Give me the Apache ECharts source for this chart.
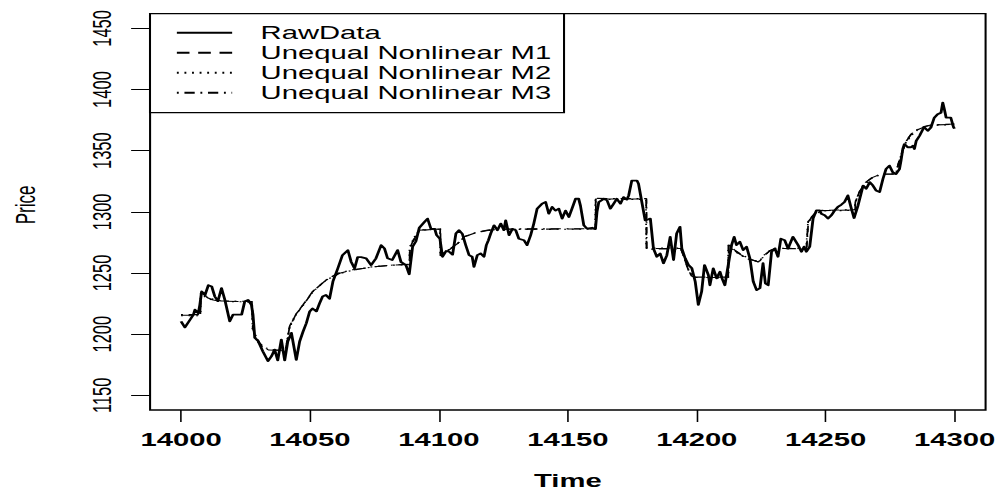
<!DOCTYPE html>
<html>
<head>
<meta charset="utf-8">
<script src="https://cdn.jsdelivr.net/npm/echarts@6/dist/echarts.min.js"></script>
<style>
  html, body { margin: 0; padding: 0; background: #fff; overflow: hidden; }
  /* drawn narrow and widened, like a stretched R device */
  #chart { width: 633px; height: 495px; transform: scaleX(1.5798); transform-origin: 0 0; }
</style>
</head>
<body>
<div id="chart"></div>
<script>
const timeTicks = [14000, 14050, 14100, 14150, 14200, 14250, 14300];
const priceTicks = [1150, 1200, 1250, 1300, 1350, 1400, 1450];

const rawTime = [
  14000, 14001.5, 14003.5, 14004.8, 14005.4, 14006.7, 14007.3, 14008, 14009.3, 14010.6,
  14011.9, 14013.1, 14014.3, 14015.7, 14017, 14018.9, 14020.2, 14023.5, 14024.7, 14026,
  14027.3, 14027.9, 14028.6, 14029.9, 14031.7, 14033.7, 14035.1, 14036.3, 14037.5, 14038.9,
  14040.2, 14041.4, 14042.8, 14044.7, 14046, 14047.3, 14048.6, 14049.9, 14051, 14052.5,
  14053.7, 14054.9, 14056.2, 14057.6, 14058.9, 14060.8, 14062.6, 14064.7, 14066, 14067.3,
  14068.5, 14069.8, 14071.8, 14073.7, 14075.6, 14077.6, 14078.9, 14080.1, 14081.9, 14084,
  14085.3, 14087.2, 14088.5, 14089.8, 14091.1, 14092.4, 14094.3, 14095.6, 14096.9, 14098.4,
  14099.1, 14100.4, 14101.4, 14102.8, 14104, 14105.3, 14106.6, 14107.8, 14109.1, 14110.4,
  14111.7, 14112.9, 14113.6, 14114.9, 14116.2, 14117.5, 14118.4, 14119.2, 14120.1, 14121.4,
  14122.7, 14124, 14125.2, 14125.9, 14127.2, 14128.5, 14129.8, 14131, 14133, 14134.2,
  14135.6, 14136.8, 14138.1, 14140, 14141.4, 14142.6, 14143.9, 14145.2, 14146.5, 14147.8,
  14149.1, 14150.4, 14151.6, 14153, 14154.2, 14154.9, 14156.2, 14157.4, 14159.4, 14160.7,
  14161.3, 14162, 14163.9, 14165.2, 14166.5, 14167.8, 14169, 14170.4, 14171.6, 14172.9,
  14173.6, 14174.8, 14176.8, 14177.4, 14178.7, 14180, 14182, 14183.2, 14184.5, 14185.8,
  14187.1, 14188.4, 14189.7, 14191, 14192.2, 14193.5, 14194.2, 14195.5, 14196.8, 14198.1,
  14199.4, 14200.6, 14201.9, 14203, 14204.5, 14205.1, 14206.4, 14207.7, 14209, 14209.9,
  14210.9, 14212.2, 14213.5, 14214.5, 14215.4, 14216.7, 14218, 14219.3, 14220.6, 14221.9,
  14223.2, 14224.5, 14225.7, 14226.6, 14227.7, 14229, 14230.3, 14231.5, 14232.6, 14234.1,
  14235.4, 14237.3, 14239.3, 14240.6, 14241.6, 14242.5, 14243.8, 14245.1, 14246.4, 14247.7,
  14248.3, 14249.6, 14250.9, 14252.2, 14253.5, 14254.7, 14256, 14257.3, 14258.6, 14259.9,
  14261, 14262.5, 14264.5, 14265.7, 14267.1, 14268.3, 14269.5, 14270.9, 14272.2, 14273.4,
  14274.7, 14276, 14277.3, 14278.6, 14279.2, 14279.9, 14280.5, 14281.8, 14283.1, 14283.8,
  14284.4, 14285.1, 14286.4, 14287.7, 14288.3, 14289.6, 14290.8, 14292.1, 14293.4, 14294.7,
  14295.4, 14296, 14296.7, 14298.5, 14299.6, 14300
];
const rawPrice = [
  1210.5, 1205.6, 1211.8, 1215.9, 1220, 1217, 1224, 1234.9, 1232, 1240,
  1239, 1230.8, 1227, 1237.6, 1228, 1210.5, 1216, 1216, 1226.7, 1228,
  1224, 1216, 1197, 1194.5, 1186, 1178, 1182, 1187.4, 1178.5, 1195.5,
  1178.5, 1194, 1201, 1179, 1194, 1202, 1209, 1218.6, 1221, 1218.6,
  1225, 1230.8, 1232, 1229, 1243, 1253.8, 1264.6, 1268.7, 1259, 1253.8,
  1263, 1263, 1262, 1256.5, 1262, 1272.8, 1270, 1262, 1260.6, 1268.7,
  1259, 1256.5, 1249, 1271.5, 1276, 1287, 1291.5, 1294.5, 1286.3, 1286,
  1281, 1278, 1263.3, 1268, 1267.4, 1265, 1282.3, 1285, 1282, 1272.8,
  1264.6, 1263.3, 1255, 1264.6, 1266, 1263.3, 1272.8, 1276.8, 1282.3, 1289,
  1285, 1290.4, 1285, 1293, 1281, 1286, 1285, 1278, 1276.8, 1272.8,
  1281, 1290.4, 1302.6, 1306.7, 1308, 1298.5, 1304, 1301, 1302.6, 1294.5,
  1301, 1295.8, 1302.6, 1310.7, 1310.7, 1305, 1289, 1286.3, 1287, 1286,
  1300, 1308, 1310.7, 1309.4, 1302.6, 1306.7, 1310.7, 1306.7, 1312, 1310,
  1313.4, 1325.6, 1325.6, 1323, 1308, 1293, 1294.5, 1270, 1263.3, 1266,
  1258, 1264.6, 1279.6, 1260.6, 1282.3, 1287.7, 1270, 1262, 1256.5, 1253.8,
  1243, 1224, 1235, 1256.5, 1248.4, 1240, 1253.8, 1245.7, 1251, 1245,
  1240, 1256.5, 1272.8, 1279.6, 1272.8, 1275.5, 1268.7, 1271.5, 1262, 1243,
  1236, 1237.6, 1258, 1241.6, 1240, 1267.4, 1270, 1263.3, 1278, 1276.8,
  1270, 1279.6, 1272.8, 1267.4, 1271.5, 1267.4, 1271.5, 1294.5, 1301.2, 1301.2,
  1298.5, 1297.2, 1294.5, 1297.2, 1301.2, 1304, 1305.8, 1308, 1313.4, 1303,
  1295, 1305, 1321.5, 1318.9, 1324.3, 1321.5, 1317.5, 1316.2, 1327, 1335,
  1337.8, 1332.4, 1331, 1335, 1341.9, 1351.4, 1355.4, 1352.8, 1352.8, 1354,
  1351.4, 1358, 1362.2, 1367.6, 1369, 1366.3, 1369, 1377, 1379.8, 1381,
  1389.3, 1384, 1377, 1377, 1369, 1368
];

// fitted trajectories of the three unequal-spaced nonlinear models
const m1Time = [
  14000, 14007.5, 14007.7, 14009, 14010.5, 14012.5, 14015, 14027.5, 14027.8, 14029,
  14030.5, 14032, 14034, 14040.5, 14042.1, 14044.5, 14047.3, 14051.1, 14056.3, 14061.5,
  14066.6, 14074.3, 14082.1, 14088.6, 14088.7, 14090.5, 14092.4, 14100.5, 14100.6, 14102.7,
  14107.2, 14109.8, 14114.3, 14119.4, 14123.3, 14160.7, 14160.8, 14180.4, 14180.5, 14193.8,
  14195.2, 14196.6, 14198, 14199.5, 14212.2, 14212.3, 14214.5, 14217, 14220, 14223.8,
  14224.5, 14226.5, 14228.5, 14230.3, 14242.5, 14243.2, 14245.5, 14248.2, 14261.3, 14261.5,
  14263, 14265, 14268, 14271, 14272.5, 14277.3, 14278, 14279.5, 14281, 14283,
  14285.5, 14288.3, 14291, 14300
];
const m1Price = [
  1215.5, 1215.5, 1234, 1231.5, 1229.5, 1228, 1227, 1226.5, 1205, 1197,
  1192, 1189, 1187, 1186.5, 1206, 1216, 1224, 1235, 1244.3, 1249.8,
  1252.4, 1255, 1256.5, 1257, 1270, 1279, 1285, 1286, 1264, 1267.4,
  1274, 1279.6, 1283, 1285, 1285.8, 1286, 1310.5, 1310.5, 1270, 1270,
  1262, 1253, 1247.5, 1246.3, 1246.3, 1273, 1268.5, 1265, 1261.5, 1259.3,
  1260, 1265, 1268.5, 1270, 1270, 1292, 1298, 1301, 1301.5, 1308,
  1316, 1323, 1328, 1330.5, 1331, 1331, 1338, 1348, 1357, 1363,
  1367, 1369.5, 1371, 1371.5
];
const m2Time = [
  14000, 14007.4, 14007.6, 14009, 14010.5, 14012.5, 14015.5, 14027.4, 14027.7, 14029,
  14030.5, 14032, 14034.5, 14040.4, 14042, 14044.5, 14047.5, 14051.5, 14056.5, 14061.5,
  14067, 14074.5, 14082, 14088.5, 14088.6, 14090.5, 14092.5, 14100.4, 14100.5, 14103,
  14107.5, 14110, 14114.5, 14119.5, 14124, 14160.6, 14160.7, 14180.3, 14180.4, 14193.7,
  14195.2, 14196.6, 14198.2, 14200, 14212.1, 14212.2, 14214.5, 14217, 14220.5, 14224,
  14224.6, 14226.5, 14228.6, 14230.5, 14242.4, 14243.1, 14245.5, 14248.5, 14261.2, 14261.4,
  14263, 14265.2, 14268, 14271, 14273, 14277.2, 14277.9, 14279.5, 14281, 14283.2,
  14285.6, 14288.5, 14291.5, 14300
];
const m2Price = [
  1215, 1215, 1233.5, 1231, 1229, 1227.8, 1226.8, 1226.3, 1204, 1196.5,
  1191.5, 1188.5, 1186.8, 1186.3, 1205, 1215.5, 1224.5, 1235.5, 1244.5, 1249.5,
  1252.5, 1255.2, 1256.4, 1256.8, 1271, 1279.5, 1285.2, 1285.8, 1265, 1268,
  1274.5, 1279.5, 1283.2, 1284.8, 1285.6, 1285.8, 1310, 1310.2, 1270.5, 1270.5,
  1262.5, 1254, 1247.8, 1246, 1246, 1272.5, 1268, 1264.5, 1261, 1259.5,
  1260.5, 1265.5, 1268.8, 1270.2, 1270.2, 1291, 1297.5, 1300.8, 1301.2, 1307,
  1315, 1322.5, 1327.5, 1330.2, 1331.2, 1331.2, 1337, 1347, 1356, 1362.5,
  1366.8, 1369.3, 1370.8, 1371.2
];
const m3Time = [
  14000, 14007.6, 14007.8, 14009.2, 14010.8, 14013, 14015.5, 14027.6, 14027.9, 14029.2,
  14030.6, 14032.2, 14034.5, 14040.6, 14042.2, 14044.6, 14047.4, 14051, 14056, 14061,
  14066.5, 14074, 14082.5, 14088.7, 14088.8, 14090.6, 14092.6, 14100.6, 14100.7, 14102.8,
  14107, 14110, 14114, 14119, 14123, 14160.8, 14160.9, 14180.5, 14180.6, 14193.9,
  14195.3, 14196.7, 14198.1, 14199.6, 14212.3, 14212.4, 14214.6, 14217.2, 14220.2, 14223.9,
  14224.4, 14226.4, 14228.4, 14230.2, 14242.6, 14243.3, 14245.6, 14248.3, 14261.4, 14261.6,
  14263.2, 14265.1, 14268.2, 14271.2, 14272.6, 14277.4, 14278.1, 14279.6, 14281.2, 14283.1,
  14285.4, 14288.2, 14291.2, 14300
];
const m3Price = [
  1216, 1216, 1234.5, 1231.8, 1229.7, 1228.2, 1227.2, 1226.7, 1206, 1197.5,
  1192.5, 1189.5, 1187.3, 1186.8, 1207, 1216.5, 1223.6, 1234.6, 1244, 1250,
  1252.6, 1254.8, 1256.6, 1257.2, 1269, 1278.5, 1284.8, 1286.2, 1263.5, 1267,
  1273.6, 1279.8, 1282.8, 1285.2, 1286, 1286.2, 1311, 1310.8, 1269.5, 1269.7,
  1261.5, 1252.5, 1247.2, 1246.6, 1246.6, 1273.5, 1269, 1265.3, 1261.8, 1259,
  1259.8, 1264.5, 1268.2, 1269.8, 1269.8, 1293, 1298.5, 1301.2, 1301.8, 1309,
  1317, 1323.5, 1328.3, 1330.8, 1330.8, 1330.8, 1339, 1349, 1358, 1363.5,
  1367.3, 1369.8, 1371.2, 1371.8
];

const FONT = 'Liberation Sans, Arial, sans-serif';
const pairs = (ts, vs) => ts.map((t, i) => [t, vs[i]]);
const plain = v => String(v);

const chart = echarts.init(document.getElementById('chart'), null, { renderer: 'svg' });

chart.setOption({
  backgroundColor: '#fff',
  animation: false,
  grid: {
    left: 94.95, right: 7.65, top: 13.7, bottom: 82.5,
    show: true, borderColor: '#000', borderWidth: 1.3, backgroundColor: 'transparent'
  },
  legend: {
    orient: 'vertical',
    left: 94.95, top: 13.7,
    padding: [9, 8, 10, 16],
    itemWidth: 35, itemHeight: 14, itemGap: 0,
    // legend keys show only the line pattern, no marker
    itemStyle: { color: 'transparent', borderColor: 'transparent', borderWidth: 0, opacity: 0 },
    borderColor: '#000', borderWidth: 1.3, backgroundColor: '#fff',
    selectedMode: false,
    textStyle: { fontFamily: FONT, fontSize: 18.5, color: '#000', lineHeight: 20, padding: [0, 0, 0, 13] },
    data: ['RawData', 'Unequal Nonlinear M1', 'Unequal Nonlinear M2', 'Unequal Nonlinear M3']
  },
  xAxis: {
    type: 'value', min: 13988, max: 14312,
    name: 'Time', nameLocation: 'middle', nameGap: 61,
    nameTextStyle: { fontFamily: FONT, fontSize: 18.5, fontWeight: 'bold', color: '#000' },
    axisLine: { show: false },
    splitLine: { show: false },
    axisTick: { show: true, length: 12, lineStyle: { color: '#000', width: 1 }, customValues: timeTicks },
    axisLabel: { fontFamily: FONT, fontSize: 18.5, fontWeight: 'bold', color: '#000', margin: 20, customValues: timeTicks, formatter: plain }
  },
  yAxis: {
    type: 'value', min: 1138, max: 1462,
    name: 'Price', nameLocation: 'middle', nameGap: 70, nameRotate: 90,
    nameTextStyle: { fontFamily: FONT, fontSize: 17, color: '#000', padding: [0, 0, 0, 14] },
    axisLine: { show: false },
    splitLine: { show: false },
    axisTick: { show: true, length: 12, lineStyle: { color: '#000', width: 1 }, customValues: priceTicks },
    axisLabel: { fontFamily: FONT, fontSize: 16.5, color: '#000', rotate: 90, margin: 22, customValues: priceTicks, formatter: plain }
  },
  series: [
    {
      name: 'RawData', type: 'line', data: pairs(rawTime, rawPrice),
      symbol: 'none', lineStyle: { color: '#000', width: 1.8, join: 'round' }, itemStyle: { color: '#000' }, z: 2
    },
    {
      name: 'Unequal Nonlinear M1', type: 'line', data: pairs(m1Time, m1Price),
      symbol: 'none', lineStyle: { color: '#000', width: 1.1, type: [8, 5.5] }, itemStyle: { color: '#000' }, z: 3
    },
    {
      name: 'Unequal Nonlinear M2', type: 'line', data: pairs(m2Time, m2Price),
      symbol: 'none', lineStyle: { color: '#000', width: 1.1, type: [1.2, 3.6] }, itemStyle: { color: '#000' }, z: 3
    },
    {
      name: 'Unequal Nonlinear M3', type: 'line', data: pairs(m3Time, m3Price),
      symbol: 'none', lineStyle: { color: '#000', width: 1.1, type: [1.2, 3.6, 6.5, 3.6] }, itemStyle: { color: '#000' }, z: 3
    }
  ]
});
</script>
</body>
</html>
